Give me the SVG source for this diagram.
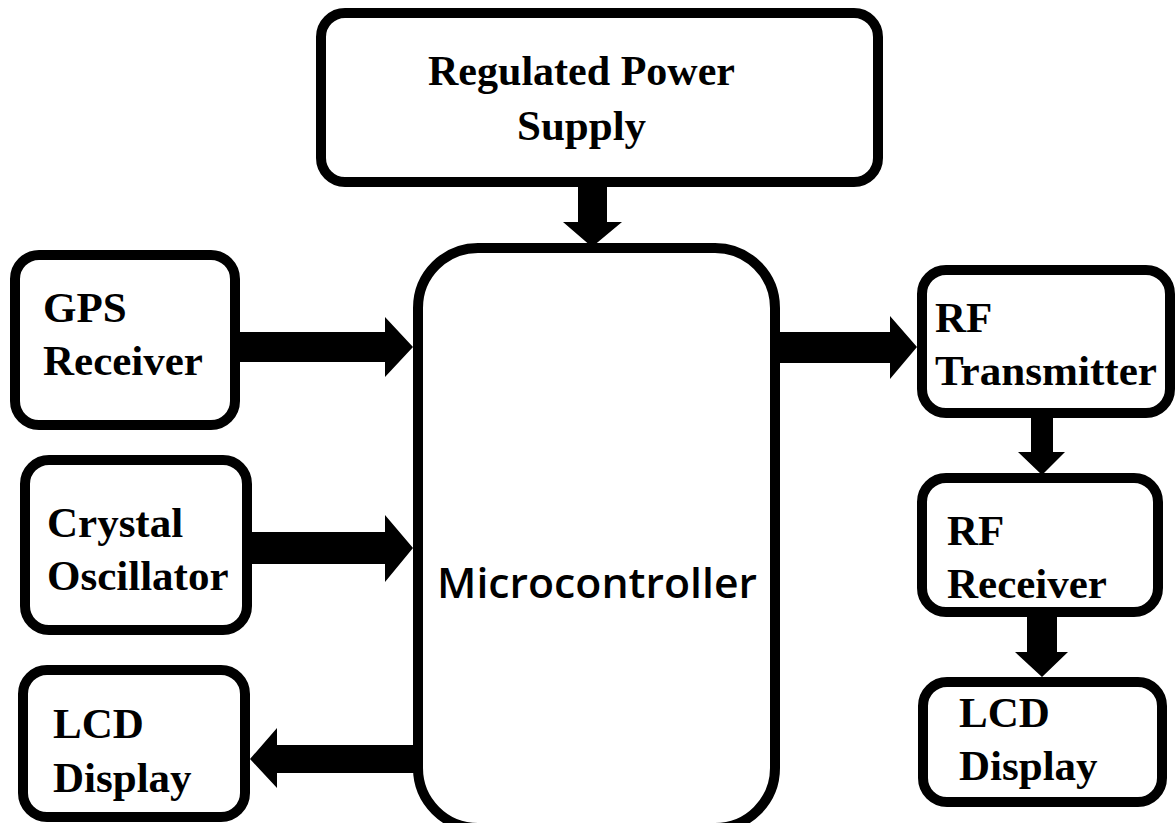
<svg xmlns="http://www.w3.org/2000/svg" width="1176" height="823" viewBox="0 0 1176 823">
<style>
.box{fill:#fff;stroke:#000;stroke-width:10}
.lbl{font-family:"Liberation Serif","Times New Roman",serif;font-weight:bold;font-size:43px;fill:#000}
.mc{font-family:"Open Sans","Liberation Sans",sans-serif;font-weight:600;font-size:42px;fill:#000}
.arr{fill:#000}
</style>
<rect width="1176" height="823" fill="#fff"/>
<g id="connectors">
<polygon class="arr" points="578,185 607,185 607,222 622,222 592,247 563,222 578,222"/>
<polygon class="arr" points="238,332 385,332 385,317 413,347 385,377 385,362 238,362"/>
<polygon class="arr" points="250,532 385,532 385,515 413,548 385,582 385,564 250,564"/>
<polygon class="arr" points="415,745 277,745 277,728 250,759 277,788 277,773 415,773"/>
<polygon class="arr" points="778,332 890,332 890,316 917,347 890,379 890,363 778,363"/>
<polygon class="arr" points="1031,416 1053,416 1053,452 1065,452 1042,475 1018,452 1031,452"/>
<polygon class="arr" points="1027,615 1057,615 1057,652 1068,652 1042,677 1015,652 1027,652"/>
</g>
<g id="power">
<rect class="box" x="321" y="13" width="557" height="169" rx="24"/>
<text class="lbl" x="428" y="85" textLength="307" lengthAdjust="spacingAndGlyphs">Regulated Power</text>
<text class="lbl" x="517" y="140">Supply</text>
</g>
<g id="micro">
<rect class="box" x="418" y="248" width="357" height="580" rx="60"/>
<text class="mc" x="437" y="598" textLength="320" lengthAdjust="spacingAndGlyphs">Microcontroller</text>
</g>
<g id="gps">
<rect class="box" x="15" y="255" width="220" height="170" rx="24"/>
<text class="lbl" x="43" y="322">GPS</text>
<text class="lbl" x="43" y="375">Receiver</text>
</g>
<g id="crystal">
<rect class="box" x="25" y="460" width="222" height="170" rx="24"/>
<text class="lbl" x="47" y="537">Crystal</text>
<text class="lbl" x="47" y="590">Oscillator</text>
</g>
<g id="lcd1">
<rect class="box" x="23" y="670" width="222" height="147" rx="24"/>
<text class="lbl" x="53" y="738">LCD</text>
<text class="lbl" x="53" y="792">Display</text>
</g>
<g id="rftx">
<rect class="box" x="922" y="270" width="248" height="143" rx="24"/>
<text class="lbl" x="935" y="332">RF</text>
<text class="lbl" x="935" y="385" textLength="222" lengthAdjust="spacingAndGlyphs">Transmitter</text>
</g>
<g id="rfrx">
<rect class="box" x="922" y="478" width="236" height="134" rx="24"/>
<text class="lbl" x="947" y="545">RF</text>
<text class="lbl" x="947" y="598">Receiver</text>
</g>
<g id="lcd2">
<rect class="box" x="923" y="682" width="239" height="120" rx="24"/>
<text class="lbl" x="959" y="727">LCD</text>
<text class="lbl" x="959" y="780">Display</text>
</g>
</svg>
